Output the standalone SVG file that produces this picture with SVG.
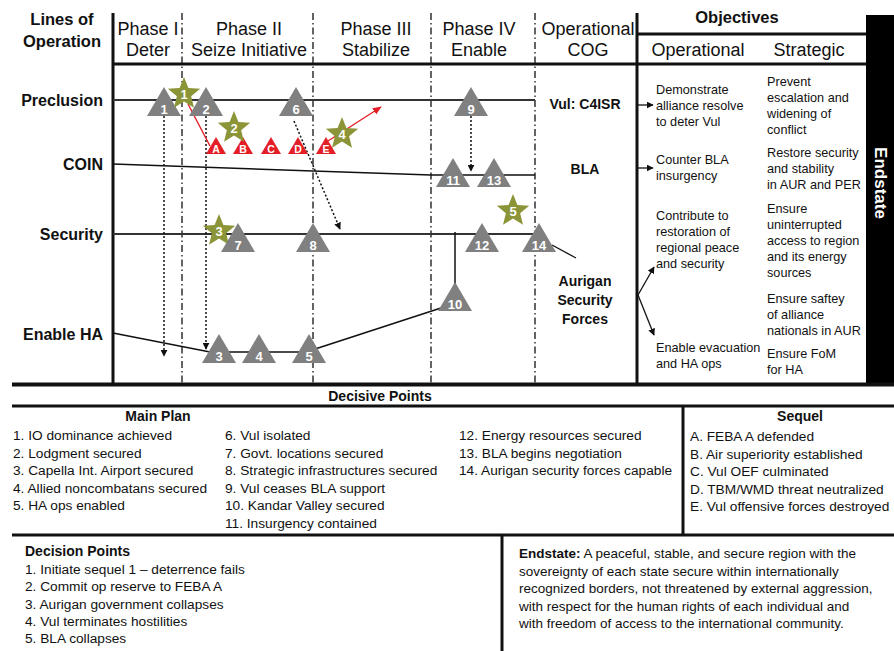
<svg xmlns="http://www.w3.org/2000/svg" xmlns:xlink="http://www.w3.org/1999/xlink" width="894" height="651" viewBox="0 0 894 651">
<style>
text{font-family:"Liberation Sans",Arial,sans-serif;fill:#111}
.hdr{font-size:18px;text-anchor:middle}
.loo{font-size:16px;font-weight:bold;text-anchor:end}
.b14{font-size:14px;font-weight:bold;text-anchor:middle}
.obj{font-size:12.7px}
.lst{font-size:13.7px}
.es{font-size:13.5px}
.num{font-size:13px;font-weight:bold;fill:#fff;text-anchor:middle}
.rnum{font-size:10.5px;font-weight:bold;fill:#fff;text-anchor:middle}
.frame{stroke:#111;stroke-width:3;fill:none}
.phase{stroke:#111;stroke-width:1.3;stroke-dasharray:7 3 1.5 3;fill:none}
.line{stroke:#333;stroke-width:1.8;fill:none}
.dot{stroke:#111;stroke-width:1.5;stroke-dasharray:2 2;fill:none;marker-end:url(#ah)}
.red{stroke:#e41e26;stroke-width:1.4;fill:none}
.oar{stroke:#111;stroke-width:1.3;fill:none;marker-end:url(#oah)}
</style>
<defs>
<marker id="ah" viewBox="0 0 10 10" refX="9" refY="5" markerWidth="7" markerHeight="7" orient="auto" markerUnits="userSpaceOnUse"><path d="M0,0 L10,5 L0,10 z" fill="#111"/></marker>
<marker id="rah" viewBox="0 0 10 10" refX="9" refY="5" markerWidth="9" markerHeight="9" orient="auto" markerUnits="userSpaceOnUse"><path d="M0,1 L10,5 L0,9 z" fill="#e41e26"/></marker>
<marker id="oah" viewBox="0 0 10 10" refX="9" refY="5" markerWidth="7" markerHeight="7" orient="auto" markerUnits="userSpaceOnUse"><path d="M0,0 L10,5 L0,10 z" fill="#111"/></marker>
<path id="tri" d="M0,0 L17,29 L-17,29 Z" fill="#808080"/>
<path id="rtri" d="M0,0 L10,17 L-10,17 Z" fill="#e41e26"/>
<path id="star" d="M0,-17 L4.41,-6.07 L16.17,-5.25 L7.13,2.32 L9.99,13.75 L0,7.5 L-9.99,13.75 L-7.13,2.32 L-16.17,-5.25 L-4.41,-6.07 Z" fill="#8b9436"/>
</defs>

<g id="frame">
<line class="frame" x1="113" y1="13" x2="113" y2="384"/>
<line class="frame" x1="637" y1="13" x2="637" y2="384"/>
<line class="frame" x1="113" y1="64" x2="866" y2="64"/>
<line class="frame" x1="637" y1="34" x2="866" y2="34"/>
<line class="phase" x1="182" y1="13" x2="182" y2="384"/>
<line class="phase" x1="313" y1="13" x2="313" y2="384"/>
<line class="phase" x1="431" y1="13" x2="431" y2="384"/>
<line class="phase" x1="535" y1="13" x2="535" y2="384"/>
<rect x="866" y="15" width="28" height="369" fill="#000"/>
<text transform="translate(880,183) rotate(90)" text-anchor="middle" dominant-baseline="central" style="font-size:17px;font-weight:bold;fill:#fff">Endstate</text>
<line x1="12" y1="384.5" x2="894" y2="384.5" stroke="#111" stroke-width="4"/>
<line class="frame" x1="12" y1="406" x2="894" y2="406"/>
<line class="frame" x1="683" y1="406" x2="683" y2="535"/>
<line class="frame" x1="12" y1="535" x2="894" y2="535"/>
<line class="frame" x1="502" y1="535" x2="502" y2="651"/>
</g>

<g id="headers">
<text x="62" y="25" style="font-size:16.5px;font-weight:bold;text-anchor:middle">Lines of</text>
<text x="62" y="47" style="font-size:16.5px;font-weight:bold;text-anchor:middle">Operation</text>
<text class="hdr" x="148" y="35">Phase I</text>
<text class="hdr" x="148" y="56">Deter</text>
<text class="hdr" x="249" y="35">Phase II</text>
<text class="hdr" x="249" y="56">Seize Initiative</text>
<text class="hdr" x="376" y="35">Phase III</text>
<text class="hdr" x="376" y="56">Stabilize</text>
<text class="hdr" x="479" y="35">Phase IV</text>
<text class="hdr" x="479" y="56">Enable</text>
<text class="hdr" x="588" y="35">Operational</text>
<text class="hdr" x="588" y="56">COG</text>
<text x="737" y="23" style="font-size:16.5px;font-weight:bold;text-anchor:middle">Objectives</text>
<text class="hdr" x="698" y="56">Operational</text>
<text class="hdr" x="809" y="56">Strategic</text>
</g>

<g id="loo-labels">
<text class="loo" x="103" y="106">Preclusion</text>
<text class="loo" x="103" y="170">COIN</text>
<text class="loo" x="103" y="240">Security</text>
<text class="loo" x="103" y="340">Enable HA</text>
</g>

<g id="connectors">
<line class="line" x1="113" y1="100" x2="535" y2="100"/>
<polyline points="113,164 431,175 535,175" style="stroke:#111;stroke-width:1.5;fill:none"/>
<line class="line" x1="113" y1="234" x2="535" y2="234"/>
<polyline points="113,333 210,352 309,352" style="stroke:#111;stroke-width:1.5;fill:none"/>
<line x1="309" y1="351" x2="444" y2="307" style="stroke:#111;stroke-width:1.5"/>
<line x1="455" y1="232" x2="455" y2="285" style="stroke:#111;stroke-width:1.5"/>
<line x1="552" y1="245" x2="576" y2="258" style="stroke:#111;stroke-width:1.3"/>
<line class="dot" x1="164" y1="116" x2="164" y2="356"/>
<line class="dot" x1="206" y1="116" x2="206" y2="349"/>
<line class="dot" x1="294" y1="121" x2="340" y2="229"/>
<line class="dot" x1="471" y1="116" x2="471" y2="171"/>
<line class="red" x1="188" y1="104" x2="210" y2="146"/>
<line class="red" x1="328" y1="141" x2="381" y2="107" marker-end="url(#rah)"/>
<line class="oar" x1="638" y1="105" x2="653" y2="105"/>
<line class="oar" x1="638" y1="168" x2="653" y2="168"/>
<line class="oar" x1="638" y1="295" x2="654" y2="267"/>
<line class="oar" x1="638" y1="295" x2="654" y2="335"/>
</g>

<g id="dp-1"><use xlink:href="#tri" x="164" y="87"/><text class="num" x="164" y="114">1</text></g>
<g id="dp-2"><use xlink:href="#tri" x="206" y="87"/><text class="num" x="206" y="114">2</text></g>
<g id="dp-6"><use xlink:href="#tri" x="296" y="87"/><text class="num" x="296" y="114">6</text></g>
<g id="dp-9"><use xlink:href="#tri" x="471" y="87"/><text class="num" x="471" y="114">9</text></g>
<g id="dp-11"><use xlink:href="#tri" x="453" y="158"/><text class="num" x="453" y="185">11</text></g>
<g id="dp-13"><use xlink:href="#tri" x="494" y="158"/><text class="num" x="494" y="185">13</text></g>
<g id="dcp-3"><use xlink:href="#star" x="219" y="231"/><text class="num" x="219" y="236">3</text></g>
<g id="dp-7"><use xlink:href="#tri" x="238" y="223"/><text class="num" x="238" y="250">7</text></g>
<g id="dp-8"><use xlink:href="#tri" x="313" y="223"/><text class="num" x="313" y="250">8</text></g>
<g id="dp-12"><use xlink:href="#tri" x="482" y="223"/><text class="num" x="482" y="250">12</text></g>
<g id="dp-14"><use xlink:href="#tri" x="539" y="223"/><text class="num" x="539" y="250">14</text></g>
<g id="dp-3"><use xlink:href="#tri" x="219" y="334"/><text class="num" x="219" y="361">3</text></g>
<g id="dp-4"><use xlink:href="#tri" x="259" y="334"/><text class="num" x="259" y="361">4</text></g>
<g id="dp-5"><use xlink:href="#tri" x="309" y="334"/><text class="num" x="309" y="361">5</text></g>
<g id="dp-10"><use xlink:href="#tri" x="455" y="282"/><text class="num" x="455" y="309">10</text></g>

<g id="seq-A"><use xlink:href="#rtri" x="216" y="137"/><text class="rnum" x="216" y="153">A</text></g>
<g id="seq-B"><use xlink:href="#rtri" x="243" y="137"/><text class="rnum" x="243" y="153">B</text></g>
<g id="seq-C"><use xlink:href="#rtri" x="271" y="137"/><text class="rnum" x="271" y="153">C</text></g>
<g id="seq-D"><use xlink:href="#rtri" x="298" y="137"/><text class="rnum" x="298" y="153">D</text></g>
<g id="seq-E"><use xlink:href="#rtri" x="326" y="137"/><text class="rnum" x="326" y="153">E</text></g>

<g id="dcp-1"><use xlink:href="#star" x="184" y="94"/><text class="num" x="184" y="99">1</text></g>
<g id="dcp-2"><use xlink:href="#star" x="234" y="128"/><text class="num" x="234" y="133">2</text></g>
<g id="dcp-4"><use xlink:href="#star" x="342" y="134"/><text class="num" x="342" y="139">4</text></g>
<g id="dcp-5"><use xlink:href="#star" x="513" y="211"/><text class="num" x="513" y="216">5</text></g>

<g id="cog">
<text class="b14" x="585" y="109">Vul: C4ISR</text>
<text class="b14" x="585" y="174">BLA</text>
<text class="b14" x="585" y="286">Aurigan</text>
<text class="b14" x="585" y="305">Security</text>
<text class="b14" x="585" y="324">Forces</text>
</g>

<g id="obj-operational">
<text class="obj" x="656" y="94">Demonstrate</text>
<text class="obj" x="656" y="110">alliance resolve</text>
<text class="obj" x="656" y="126">to deter Vul</text>
<text class="obj" x="656" y="164">Counter BLA</text>
<text class="obj" x="656" y="180">insurgency</text>
<text class="obj" x="656" y="220">Contribute to</text>
<text class="obj" x="656" y="236">restoration of</text>
<text class="obj" x="656" y="252">regional peace</text>
<text class="obj" x="656" y="268">and security</text>
<text class="obj" x="656" y="352">Enable evacuation</text>
<text class="obj" x="656" y="368">and HA ops</text>
</g>

<g id="obj-strategic">
<text class="obj" x="767" y="86">Prevent</text>
<text class="obj" x="767" y="102">escalation and</text>
<text class="obj" x="767" y="118">widening of</text>
<text class="obj" x="767" y="134">conflict</text>
<text class="obj" x="767" y="157">Restore security</text>
<text class="obj" x="767" y="173">and stability</text>
<text class="obj" x="767" y="189">in AUR and PER</text>
<text class="obj" x="767" y="213">Ensure</text>
<text class="obj" x="767" y="229">uninterrupted</text>
<text class="obj" x="767" y="245">access to region</text>
<text class="obj" x="767" y="261">and its energy</text>
<text class="obj" x="767" y="277">sources</text>
<text class="obj" x="767" y="303">Ensure saftey</text>
<text class="obj" x="767" y="319">of alliance</text>
<text class="obj" x="767" y="335">nationals in AUR</text>
<text class="obj" x="767" y="358">Ensure FoM</text>
<text class="obj" x="767" y="374">for HA</text>
</g>

<g id="decisive-points">
<text x="380" y="401" style="font-size:14px;font-weight:bold;text-anchor:middle">Decisive Points</text>
<text x="158" y="421" style="font-size:14px;font-weight:bold;text-anchor:middle">Main Plan</text>
<text class="lst" x="13" y="440">1. IO dominance achieved</text>
<text class="lst" x="13" y="457.5">2. Lodgment secured</text>
<text class="lst" x="13" y="475">3. Capella Int. Airport secured</text>
<text class="lst" x="13" y="492.5">4. Allied noncombatans secured</text>
<text class="lst" x="13" y="510">5. HA ops enabled</text>
<text class="lst" x="225" y="440">6. Vul isolated</text>
<text class="lst" x="225" y="457.5">7. Govt. locations secured</text>
<text class="lst" x="225" y="475">8. Strategic infrastructures secured</text>
<text class="lst" x="225" y="492.5">9. Vul ceases BLA support</text>
<text class="lst" x="225" y="510">10. Kandar Valley secured</text>
<text class="lst" x="225" y="527.5">11. Insurgency contained</text>
<text class="lst" x="459" y="440">12. Energy resources secured</text>
<text class="lst" x="459" y="457.5">13. BLA begins negotiation</text>
<text class="lst" x="459" y="475">14. Aurigan security forces capable</text>
<text x="800" y="421" style="font-size:14px;font-weight:bold;text-anchor:middle">Sequel</text>
<text class="lst" x="690" y="441">A. FEBA A defended</text>
<text class="lst" x="690" y="458.5">B. Air superiority established</text>
<text class="lst" x="690" y="476">C. Vul OEF culminated</text>
<text class="lst" x="690" y="493.5">D. TBM/WMD threat neutralized</text>
<text class="lst" x="690" y="511">E. Vul offensive forces destroyed</text>
</g>

<g id="decision-points">
<text x="25" y="556" style="font-size:14px;font-weight:bold">Decision Points</text>
<text class="lst" x="25" y="574">1. Initiate sequel 1 – deterrence fails</text>
<text class="lst" x="25" y="591">2. Commit op reserve to FEBA A</text>
<text class="lst" x="25" y="608.5">3. Aurigan government collapses</text>
<text class="lst" x="25" y="626">4. Vul terminates hostilities</text>
<text class="lst" x="25" y="643">5. BLA collapses</text>
</g>

<g id="endstate">
<text class="es" x="519" y="558"><tspan font-weight="bold">Endstate:</tspan> A peaceful, stable, and secure region with the</text>
<text class="es" x="519" y="575.5">sovereignty of each state secure within internationally</text>
<text class="es" x="519" y="593">recognized borders, not threatened by external aggression,</text>
<text class="es" x="519" y="610.5">with respect for the human rights of each individual and</text>
<text class="es" x="519" y="628">with freedom of access to the international community.</text>
</g>
</svg>
